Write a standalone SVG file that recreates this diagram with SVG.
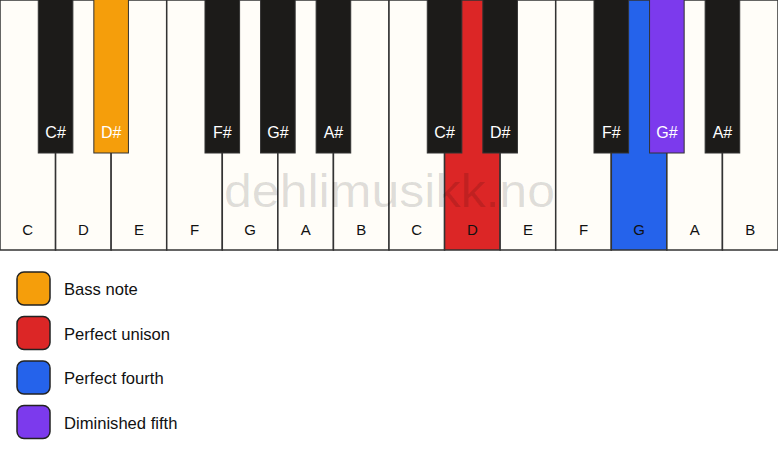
<svg xmlns="http://www.w3.org/2000/svg" width="778" height="461" viewBox="0 0 778 461">
<style>
.w{fill:#fffdf8;stroke:#333;stroke-width:1.5}
.b{fill:#1c1b19;stroke:#333;stroke-width:1}
.wl{font-family:"Liberation Sans",Arial,sans-serif;font-size:15px;fill:#111;text-anchor:middle}
.bl{font-family:"Liberation Sans",Arial,sans-serif;font-size:16px;fill:#fff;text-anchor:middle}
.lg{stroke:#222;stroke-width:1.5}
.lt{font-family:"Liberation Sans",Arial,sans-serif;font-size:16.6px;fill:#111}
.wm{font-family:"Liberation Sans",Arial,sans-serif;font-size:46px;fill:#000;fill-opacity:0.13;text-anchor:middle}
</style>
<rect width="778" height="461" fill="#fff"/>
<g id="white-keys">
<g id="key-C1"><rect class="w" x="0" y="0" width="55.571" height="250"/><text class="wl" x="27.79" y="235">C</text></g>
<g id="key-D1"><rect class="w" x="55.571" y="0" width="55.571" height="250"/><text class="wl" x="83.36" y="235">D</text></g>
<g id="key-E1"><rect class="w" x="111.143" y="0" width="55.571" height="250"/><text class="wl" x="138.93" y="235">E</text></g>
<g id="key-F1"><rect class="w" x="166.714" y="0" width="55.571" height="250"/><text class="wl" x="194.5" y="235">F</text></g>
<g id="key-G1"><rect class="w" x="222.286" y="0" width="55.571" height="250"/><text class="wl" x="250.07" y="235">G</text></g>
<g id="key-A1"><rect class="w" x="277.857" y="0" width="55.571" height="250"/><text class="wl" x="305.64" y="235">A</text></g>
<g id="key-B1"><rect class="w" x="333.429" y="0" width="55.571" height="250"/><text class="wl" x="361.21" y="235">B</text></g>
<g id="key-C2"><rect class="w" x="389" y="0" width="55.571" height="250"/><text class="wl" x="416.79" y="235">C</text></g>
<g id="key-D2"><rect class="w" x="444.571" y="0" width="55.571" height="250" style="fill:#dc2626"/><text class="wl" x="472.36" y="235">D</text></g>
<g id="key-E2"><rect class="w" x="500.143" y="0" width="55.571" height="250"/><text class="wl" x="527.93" y="235">E</text></g>
<g id="key-F2"><rect class="w" x="555.714" y="0" width="55.571" height="250"/><text class="wl" x="583.5" y="235">F</text></g>
<g id="key-G2"><rect class="w" x="611.286" y="0" width="55.571" height="250" style="fill:#2563eb"/><text class="wl" x="639.07" y="235">G</text></g>
<g id="key-A2"><rect class="w" x="666.857" y="0" width="55.571" height="250"/><text class="wl" x="694.64" y="235">A</text></g>
<g id="key-B2"><rect class="w" x="722.429" y="0" width="55.571" height="250"/><text class="wl" x="750.21" y="235">B</text></g>
</g>
<g id="black-keys">
<g id="key-Cs1"><rect class="b" x="38.27" y="-1" width="34.6" height="154"/><text class="bl" x="55.57" y="138">C#</text></g>
<g id="key-Ds1"><rect class="b" x="93.84" y="-1" width="34.6" height="154" style="fill:#f59e0b"/><text class="bl" x="111.14" y="138">D#</text></g>
<g id="key-Fs1"><rect class="b" x="204.99" y="-1" width="34.6" height="154"/><text class="bl" x="222.29" y="138">F#</text></g>
<g id="key-Gs1"><rect class="b" x="260.56" y="-1" width="34.6" height="154"/><text class="bl" x="277.86" y="138">G#</text></g>
<g id="key-As1"><rect class="b" x="316.13" y="-1" width="34.6" height="154"/><text class="bl" x="333.43" y="138">A#</text></g>
<g id="key-Cs2"><rect class="b" x="427.27" y="-1" width="34.6" height="154"/><text class="bl" x="444.57" y="138">C#</text></g>
<g id="key-Ds2"><rect class="b" x="482.84" y="-1" width="34.6" height="154"/><text class="bl" x="500.14" y="138">D#</text></g>
<g id="key-Fs2"><rect class="b" x="593.99" y="-1" width="34.6" height="154"/><text class="bl" x="611.29" y="138">F#</text></g>
<g id="key-Gs2"><rect class="b" x="649.56" y="-1" width="34.6" height="154" style="fill:#7c3aed"/><text class="bl" x="666.86" y="138">G#</text></g>
<g id="key-As2"><rect class="b" x="705.13" y="-1" width="34.6" height="154"/><text class="bl" x="722.43" y="138">A#</text></g>
</g>
<text class="wm" x="389.5" y="207" textLength="331" lengthAdjust="spacingAndGlyphs">dehlimusikk.no</text>
<g id="legend">
<g id="legend-bass"><rect class="lg" x="17" y="272" width="33" height="33" rx="7" fill="#f59e0b"/><text class="lt" x="64" y="295">Bass note</text></g>
<g id="legend-unison"><rect class="lg" x="17" y="316.5" width="33" height="33" rx="7" fill="#dc2626"/><text class="lt" x="64" y="339.5">Perfect unison</text></g>
<g id="legend-fourth"><rect class="lg" x="17" y="361" width="33" height="33" rx="7" fill="#2563eb"/><text class="lt" x="64" y="384">Perfect fourth</text></g>
<g id="legend-fifth"><rect class="lg" x="17" y="405.5" width="33" height="33" rx="7" fill="#7c3aed"/><text class="lt" x="64" y="428.5">Diminished fifth</text></g>
</g>
</svg>
